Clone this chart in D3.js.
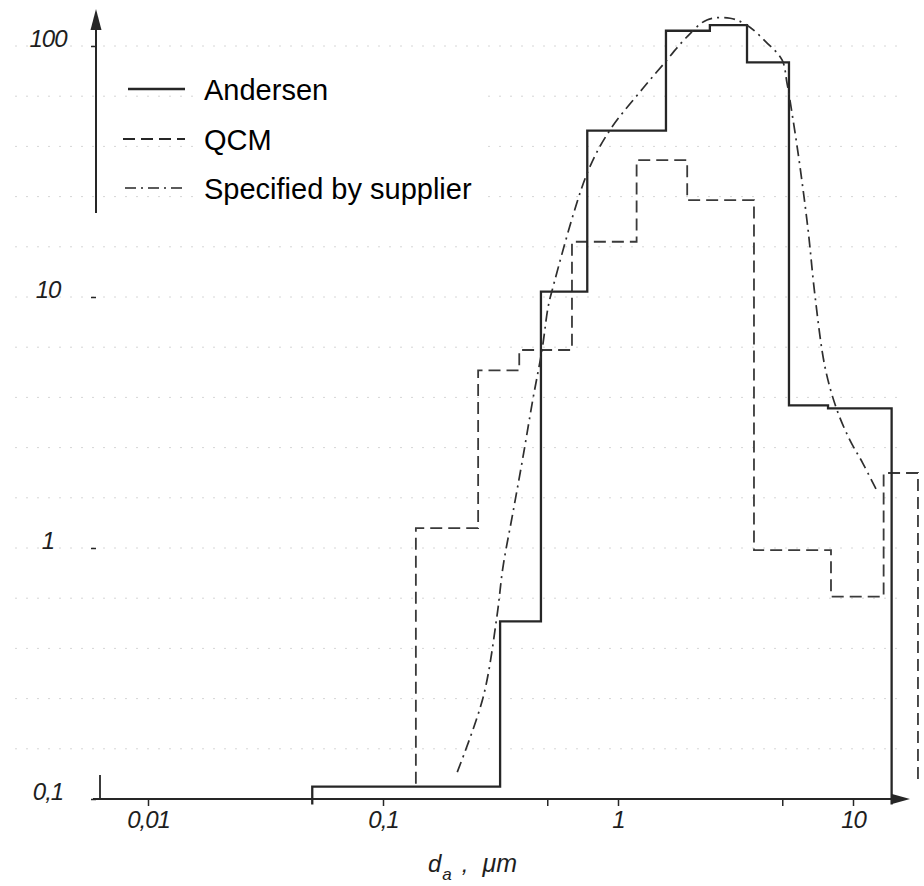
<!DOCTYPE html>
<html>
<head>
<meta charset="utf-8">
<script src="https://cdn.jsdelivr.net/npm/d3@7/dist/d3.min.js"></script>
<style>
  body { margin: 0; background: #fff; }
  svg { display: block; }
  .tick-label { font-family: "Liberation Sans", Arial, sans-serif; font-style: italic; font-size: 24px; fill: #1e1e1e; }
  .legend-label { font-family: "Liberation Sans", Arial, sans-serif; font-size: 29px; fill: #000; }
  .axis-title { font-family: "Liberation Sans", Arial, sans-serif; font-style: italic; fill: #1e1e1e; }
</style>
</head>
<body>
<svg id="chart" width="924" height="886"></svg>
<script>
// Values (particle size in µm, log-log)

// Andersen impactor: stage edges and level of each stage
var andersenEdges  = [0.05, 0.315, 0.47, 0.74, 1.6, 2.46, 3.54, 5.34, 7.83, 14.6];
var andersenValues = [0.112, 0.51, 10.5, 46, 115, 121, 86, 3.7, 3.6];

// QCM: stage edges and level of each stage
var qcmEdges  = [0.138, 0.254, 0.38, 0.637, 1.2, 1.97, 3.79, 8.06, 13.5, 18.9];
var qcmValues = [1.2, 5.1, 6.15, 16.6, 35.1, 24.3, 0.98, 0.64, 1.99];

// distribution given by the supplier
var supplierSize  = [0.207, 0.267, 0.305, 0.324, 0.357, 0.394, 0.434, 0.475, 0.504, 0.524,
                     0.74, 0.925, 1.28, 1.55, 1.97, 2.39, 3.0, 3.54, 4.3, 4.99, 5.24, 5.56,
                     5.95, 6.44, 6.9, 7.6, 8.5, 9.7, 11.0, 12.6];
var supplierValue = [0.128, 0.255, 0.53, 0.84, 1.38, 2.3, 3.9, 6.15, 9.1, 10.6,
                     31.2, 46.3, 68, 84, 109, 127, 129, 121, 103, 88, 71, 50.7,
                     33, 18.5, 10, 5.26, 3.6, 2.69, 2.18, 1.70];

// axis ticks
var xTickValues = [0.01, 0.1, 1, 10];
var xTickLabels = ["0,01", "0,1", "1", "10"];
var xMinorTicks = [0.5, 5];
var yTickValues = [0.1, 1, 10, 100];
var yTickLabels = ["0,1", "1", "10", "100"];

var legendNames = ["Andersen", "QCM", "Specified by supplier"];

var INK = "#262626";

var svg = d3.select("#chart");

var x = d3.scaleLog().domain([0.01, 10]).range([148, 853]);
var y = d3.scaleLog().domain([0.1, 100]).range([799, 46]);

var line = d3.line()
    .x(function(d){ return x(d[0]); })
    .y(function(d){ return y(d[1]); });


// faint dotted lines of the graph paper (every 0.2 decade)
svg.append("g")
    .selectAll("line")
    .data(d3.range(1, 16))
    .enter()
    .append("line")
    .attr("x1", 15)
    .attr("x2", 905)
    .attr("y1", function(k){ return y(Math.pow(10, -1 + 0.2 * k)); })
    .attr("y2", function(k){ return y(Math.pow(10, -1 + 0.2 * k)); })
    .attr("stroke", "#d6d6d6")
    .attr("stroke-width", 1)
    .attr("stroke-dasharray", "2,9");

// the legend sits on a clean patch of paper
svg.append("rect")
    .attr("x", 198).attr("y", 66)
    .attr("width", 282).attr("height", 142)
    .attr("fill", "#fff");


// turn stage edges + values into a closed step outline
function stepPoints(edges, values, floor){
  var pts = [[edges[0], floor]];
  values.forEach(function(v, i){
    pts.push([edges[i], v]);
    pts.push([edges[i + 1], v]);
  });
  pts.push([edges[edges.length - 1], floor]);
  return pts;
}

svg.append("path")
    .attr("d", line(stepPoints(qcmEdges, qcmValues, 0.115)))
    .attr("fill", "none")
    .attr("stroke", "#3a3a3a")
    .attr("stroke-width", 1.8)
    .attr("stroke-dasharray", "12,6");

svg.append("path")
    .attr("d", line(stepPoints(andersenEdges, andersenValues, 0.095)))
    .attr("fill", "none")
    .attr("stroke", INK)
    .attr("stroke-width", 2.3);

var supplier = supplierSize.map(function(s, i){ return [s, supplierValue[i]]; });
svg.append("path")
    .attr("d", line.curve(d3.curveCatmullRom)(supplier))
    .attr("fill", "none")
    .attr("stroke", "#2e2e2e")
    .attr("stroke-width", 1.7)
    .attr("stroke-dasharray", "11,5,2,5");
line.curve(d3.curveLinear);


// x axis: long line with arrow, ticks only below
svg.append("line")
    .attr("x1", 93).attr("x2", 896)
    .attr("y1", 799).attr("y2", 799)
    .attr("stroke", INK).attr("stroke-width", 2.2);
svg.append("path")
    .attr("d", "M910,799 L892,794 L892,804 Z")
    .attr("fill", INK);

var xAxis = d3.axisBottom(x)
    .tickValues(xTickValues.concat(xMinorTicks))
    .tickSize(7)
    .tickFormat(function(d){
      var i = xTickValues.indexOf(d);
      return i < 0 ? "" : xTickLabels[i];
    });

var gx = svg.append("g")
    .attr("transform", "translate(0,799)")
    .call(xAxis);
gx.select(".domain").remove();
gx.selectAll(".tick line").attr("stroke", INK).attr("stroke-width", 1.5);
gx.selectAll(".tick text")
    .attr("class", "tick-label")
    .attr("y", 29)
    .attr("dy", 0)
    .style("letter-spacing", "-1px");


// y axis: only the top part of the line survives, plus small ticks
svg.append("line")
    .attr("x1", 96).attr("x2", 96)
    .attr("y1", 22).attr("y2", 213)
    .attr("stroke", INK).attr("stroke-width", 2);
svg.append("path")
    .attr("d", "M96,9 L90.5,30 L101.5,30 Z")
    .attr("fill", INK);
svg.append("line")
    .attr("x1", 100).attr("x2", 100)
    .attr("y1", 775).attr("y2", 799)
    .attr("stroke", INK).attr("stroke-width", 1.8);

var yAxis = d3.axisLeft(y)
    .tickValues(yTickValues)
    .tickSize(5)
    .tickFormat(function(d, i){ return yTickLabels[i]; });

var gy = svg.append("g")
    .attr("transform", "translate(96,0)")
    .call(yAxis);
gy.select(".domain").remove();
gy.selectAll(".tick line").attr("stroke", INK).attr("stroke-width", 1.5);
gy.selectAll(".tick text")
    .attr("class", "tick-label")
    .attr("x", -48)
    .attr("dy", 0)
    .attr("text-anchor", "middle")
    .style("letter-spacing", "-1px");


// axis title  d_a , µm  (one text, subscript as tspan)
var title = svg.append("text")
    .attr("class", "axis-title")
    .attr("x", 428)
    .attr("y", 872)
    .style("font-size", "24px");
title.append("tspan").text("d");
title.append("tspan").attr("dx", 1).attr("dy", 8).style("font-size", "17px").text("a");
title.append("tspan").attr("dx", 10).attr("dy", -8).text(",");
title.append("tspan").attr("dx", 14).style("font-size", "25px").text("\u03bcm");


// legend
var legendStyles = [
  {dash: null, width: 2.3, x1: 128},
  {dash: "12,6", width: 1.8, x1: 123},
  {dash: "11,5,2,5", width: 1.7, x1: 125}
];
var legendY = [89, 139, 188];

var legend = svg.append("g")
    .selectAll("g")
    .data(legendNames)
    .enter()
    .append("g");

legend.append("line")
    .attr("x1", function(d, i){ return legendStyles[i].x1; })
    .attr("x2", 185)
    .attr("y1", function(d, i){ return legendY[i]; })
    .attr("y2", function(d, i){ return legendY[i]; })
    .attr("stroke", INK)
    .attr("stroke-width", function(d, i){ return legendStyles[i].width; })
    .attr("stroke-dasharray", function(d, i){ return legendStyles[i].dash; });

legend.append("text")
    .attr("class", "legend-label")
    .attr("x", 204)
    .attr("y", function(d, i){ return legendY[i] + 11; })
    .text(function(d){ return d; });
</script>
</body>
</html>
